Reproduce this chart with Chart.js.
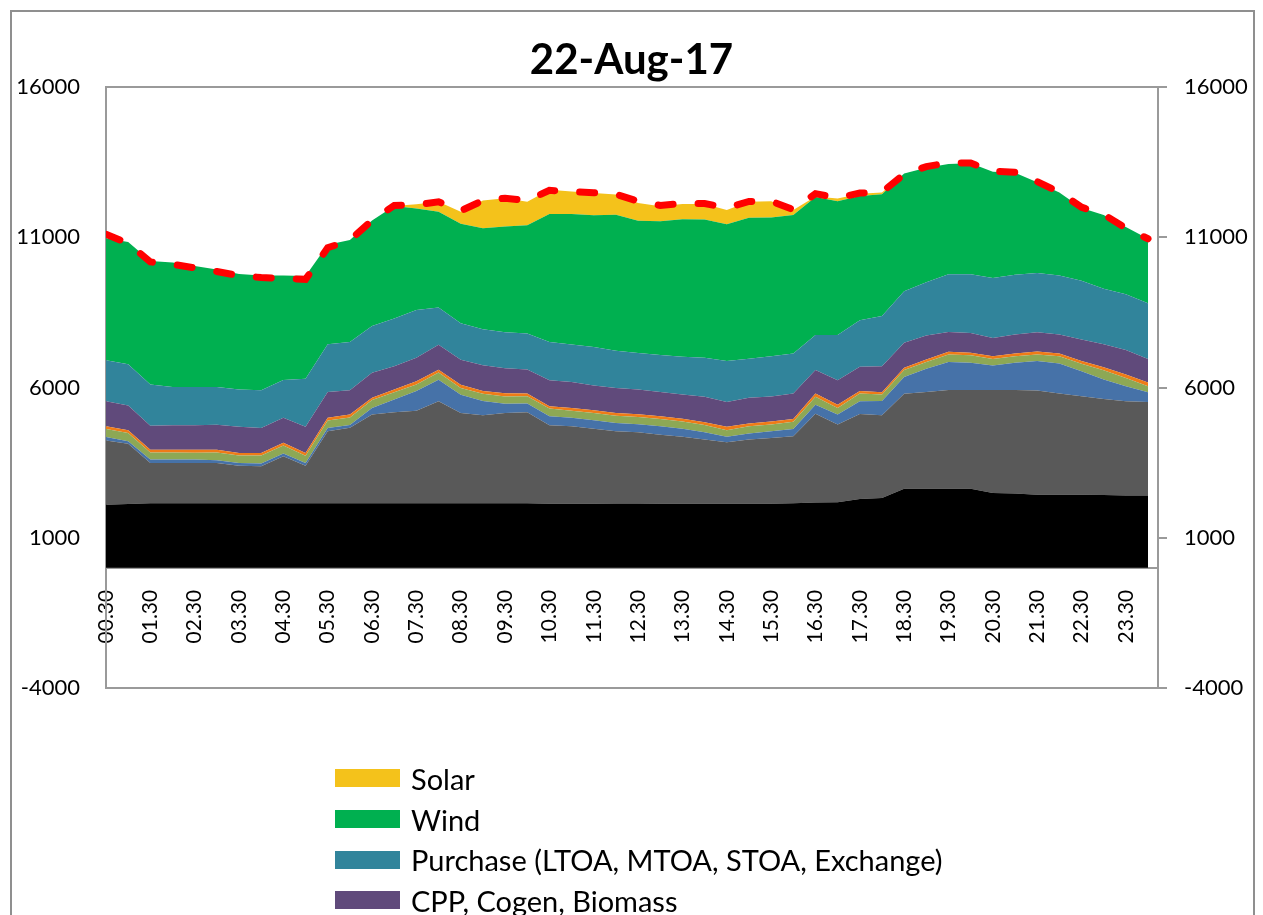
<!DOCTYPE html>
<html>
<head>
<meta charset="utf-8">
<title>22-Aug-17</title>
<script src="https://cdn.jsdelivr.net/npm/chart.js@4.4.1/dist/chart.umd.min.js"></script>
<style>
  html, body { margin: 0; padding: 0; background: #fff; }
  .page { position: relative; width: 1263px; height: 915px; overflow: hidden; font-family: Lato, sans-serif; }
  .frame { position: absolute; left: 10px; top: 10px; width: 1245px; height: 980px; border: 2px solid #8f8f8f; box-sizing: border-box; }
  #genChart { position: absolute; left: 0; top: 0; }
  .legend { position: absolute; left: 335px; top: 758px; margin: 0; padding: 0; list-style: none; }
  .legend li { display: flex; align-items: center; height: 40.7px; font-size: 29px; color: #000; white-space: nowrap; }
  .legend .swatch { width: 65px; height: 18px; margin-right: 11px; flex: none; }
</style>
</head>
<body>
<div class="page">
  <div class="frame"></div>
  <canvas id="genChart" width="1263" height="915"></canvas>
  <ul class="legend" id="legend"></ul>
</div>
<script>
const TITLE = '22-Aug-17';

// half-hour blocks, every other one is labelled
const CATEGORIES = ['00.30', '01.00', '01.30', '02.00', '02.30', '03.00', '03.30', '04.00',
  '04.30', '05.00', '05.30', '06.00', '06.30', '07.00', '07.30', '08.00', '08.30', '09.00',
  '09.30', '10.00', '10.30', '11.00', '11.30', '12.00', '12.30', '13.00', '13.30', '14.00',
  '14.30', '15.00', '15.30', '16.00', '16.30', '17.00', '17.30', '18.00', '18.30', '19.00',
  '19.30', '20.00', '20.30', '21.00', '21.30', '22.00', '22.30', '23.00', '23.30', '24.00'];

const Y_TICKS = [-4000, 1000, 6000, 11000, 16000];

// stacked layers, bottom to top (MW)
const CENTRAL = [2100, 2120, 2150, 2150, 2150, 2150, 2150, 2150, 2150, 2150, 2150, 2150, 2150, 2150, 2150, 2150,
  2150, 2150, 2150, 2150, 2130, 2130, 2130, 2140, 2140, 2130, 2130, 2130, 2130, 2130, 2130, 2150,
  2170, 2180, 2290, 2320, 2630, 2630, 2630, 2630, 2490, 2470, 2430, 2430, 2430, 2420, 2410, 2410];
const THERMAL = [2140, 2010, 1340, 1340, 1340, 1340, 1250, 1230, 1560, 1250, 2390, 2510, 2950, 3030, 3080, 3390,
  3000, 2930, 3000, 3030, 2610, 2580, 2500, 2400, 2370, 2300, 2230, 2140, 2050, 2140, 2190, 2230,
  2960, 2590, 2830, 2760, 3160, 3220, 3290, 3290, 3430, 3450, 3470, 3370, 3280, 3200, 3130, 3110];
const GAS = [110, 80, 110, 110, 110, 90, 90, 90, 90, 90, 110, 90, 220, 420, 650, 720,
  610, 470, 310, 290, 300, 280, 280, 280, 270, 280, 270, 240, 180, 200, 220, 240,
  300, 330, 420, 470, 560, 770, 930, 900, 810, 900, 980, 1000, 830, 650, 500, 320];
const HYDRO = [270, 280, 240, 240, 230, 260, 250, 270, 270, 240, 250, 250, 260, 240, 220, 240,
  220, 240, 240, 240, 260, 240, 240, 240, 240, 240, 240, 240, 220, 240, 230, 240,
  260, 220, 260, 220, 230, 230, 250, 250, 220, 220, 220, 240, 250, 300, 280, 200];
const IPP = [90, 90, 90, 90, 100, 90, 80, 80, 90, 90, 90, 100, 80, 90, 110, 90,
  110, 90, 110, 90, 80, 90, 90, 90, 90, 90, 90, 90, 110, 90, 100, 90,
  110, 110, 80, 70, 80, 80, 90, 90, 90, 90, 100, 90, 90, 100, 110, 130];
const CPP = [830, 820, 800, 810, 810, 830, 870, 830, 830, 870, 860, 810, 830, 780, 780, 830,
  830, 860, 830, 800, 860, 860, 830, 830, 820, 810, 810, 850, 830, 860, 830, 850,
  780, 810, 810, 870, 830, 800, 660, 650, 610, 630, 640, 630, 720, 770, 820, 780];
const PURCHASE = [1370, 1370, 1370, 1280, 1280, 1260, 1240, 1260, 1260, 1600, 1590, 1600, 1560, 1590, 1590, 1240,
  1220, 1200, 1200, 1200, 1270, 1250, 1280, 1240, 1220, 1230, 1250, 1300, 1360, 1300, 1340, 1330,
  1170, 1510, 1550, 1670, 1710, 1770, 1920, 1960, 1990, 1990, 1970, 1970, 1950, 1850, 1850, 1850];
const WIND = [4060, 4070, 4110, 4140, 4020, 3910, 3850, 3820, 3480, 3420, 3310, 3400, 3510, 3740, 3380, 3190,
  3310, 3360, 3520, 3600, 4260, 4340, 4380, 4530, 4400, 4450, 4580, 4600, 4550, 4690, 4620, 4610,
  4590, 4450, 4130, 4050, 3920, 3810, 3670, 3690, 3540, 3400, 3020, 2760, 2420, 2450, 2240, 2150];
const SOLAR = [0, 0, 0, 0, 0, 0, 0, 0, 0, 0, 0, 0, 0, 0, 140, 330,
  400, 920, 940, 780, 810, 750, 740, 670, 590, 500, 510, 520, 480, 530, 540, 170,
  20, 90, 80, 60, 0, 0, 0, 0, 0, 0, 0, 0, 0, 0, 0, 0];

// demand line (MW)
const DEMAND = [11100, 10800, 10180, 10100, 9980, 9860, 9720, 9660, 9630, 9600, 10650, 10900, 11560, 12060, 12080, 12180,
  11880, 12220, 12300, 12220, 12560, 12520, 12480, 12430, 12200, 12060, 12120, 12120, 11980, 12190, 12200, 11920,
  12450, 12310, 12470, 12500, 13100, 13350, 13480, 13470, 13200, 13160, 12850, 12500, 12000, 11760, 11300, 10950];

const LAYERS = [
  { label: 'Central Generating Stations', values: CENTRAL, color: '#000000' },
  { label: 'Thermal', values: THERMAL, color: '#595959' },
  { label: 'Gas', values: GAS, color: '#4672A8' },
  { label: 'Hydro', values: HYDRO, color: '#8DA855' },
  { label: 'IPP', values: IPP, color: '#EF7B17' },
  { label: 'CPP, Cogen, Biomass', values: CPP, color: '#604A7B' },
  { label: 'Purchase (LTOA, MTOA, STOA, Exchange)', values: PURCHASE, color: '#31849B' },
  { label: 'Wind', values: WIND, color: '#00B050' },
  { label: 'Solar', values: SOLAR, color: '#F4C21B' },
];

const FONT = 'Lato';
const AXIS_GREY = '#9a9a9a';

const toPoints = (values) => values.map((y, i) => ({ x: i, y }));

// Excel leaves a small gap after the last block, so the x range runs a bit past 47
const X_MAX = 47.45;

function buildDatasets() {
  const demand = {
    label: 'Demand',
    data: toPoints(DEMAND),
    stack: 'demand',
    borderColor: '#FF0000',
    borderWidth: 7,
    borderDash: [15, 25],
    borderCapStyle: 'round',
    pointRadius: 0,
    fill: false,
    tension: 0,
  };
  const areas = LAYERS.map((layer, i) => ({
    label: layer.label,
    data: toPoints(layer.values),
    stack: 'gen',
    backgroundColor: layer.color,
    borderColor: layer.color,
    borderWidth: 0,
    pointRadius: 0,
    fill: i === 0 ? 'origin' : '-1',
    tension: 0,
  }));
  // demand first so it is painted on top
  return [demand, ...areas];
}

const fixedTicks = (values) => (scale) => {
  scale.ticks = values.map((value) => ({ value }));
};

const plainNumber = (value) => String(value);

const plotFrame = {
  id: 'plotFrame',
  afterDraw(chart) {
    const { ctx, chartArea: a } = chart;
    ctx.save();
    ctx.strokeStyle = AXIS_GREY;
    ctx.lineWidth = 2;
    ctx.beginPath();
    ctx.moveTo(a.left, a.top);
    ctx.lineTo(a.right, a.top);
    ctx.moveTo(a.left, a.bottom);
    ctx.lineTo(a.right, a.bottom);
    ctx.stroke();
    ctx.restore();
  },
};

const chart = new Chart(document.getElementById('genChart'), {
  type: 'line',
  data: { datasets: buildDatasets() },
  plugins: [plotFrame],
  options: {
    responsive: false,
    animation: false,
    events: [],
    layout: { padding: { left: 0, right: 0, top: 0, bottom: 227 } },
    plugins: {
      legend: { display: false },
      tooltip: { enabled: false },
      title: {
        display: true,
        text: TITLE,
        color: '#000',
        font: { family: FONT, size: 42, weight: 'bold' },
        padding: { top: 35, bottom: 1.6 },
      },
    },
    scales: {
      x: {
        type: 'linear',
        position: { y: 0 },
        min: 0,
        max: X_MAX,
        afterBuildTicks: fixedTicks(CATEGORIES.map((c, i) => i).filter((i) => i % 2 === 0)),
        ticks: {
          callback: (value) => CATEGORIES[value],
          minRotation: 90,
          maxRotation: 90,
          autoSkip: false,
          padding: 22,
          color: '#000',
          font: { family: FONT, size: 21 },
        },
        grid: { display: false, drawTicks: false },
        border: { display: true, color: AXIS_GREY, width: 2 },
      },
      y: {
        stacked: true,
        position: 'left',
        min: -4000,
        max: 16000,
        afterBuildTicks: fixedTicks(Y_TICKS),
        afterFit: (scale) => { scale.width = 106; },
        ticks: { callback: plainNumber, padding: 26, color: '#000', font: { family: FONT, size: 22 } },
        grid: { display: false, drawTicks: false },
        border: { display: true, color: AXIS_GREY, width: 2 },
      },
      y2: {
        position: 'right',
        min: -4000,
        max: 16000,
        afterBuildTicks: fixedTicks(Y_TICKS),
        afterFit: (scale) => { scale.width = 105; },
        ticks: { callback: plainNumber, padding: 17, color: '#000', font: { family: FONT, size: 22 } },
        grid: { drawOnChartArea: false, drawTicks: true, tickLength: 9, color: AXIS_GREY, lineWidth: 2 },
        border: { display: true, color: AXIS_GREY, width: 2 },
      },
    },
  },
});

// vertical legend under the plot, top layer first
function renderLegend() {
  const items = chart.data.datasets.filter((ds) => ds.stack === 'gen').slice().reverse();
  document.getElementById('legend').innerHTML = items.map((ds) => `
    <li><span class="swatch" style="background:${ds.backgroundColor}"></span>${ds.label}</li>
  `).join('');
}

renderLegend();
</script>
</body>
</html>
